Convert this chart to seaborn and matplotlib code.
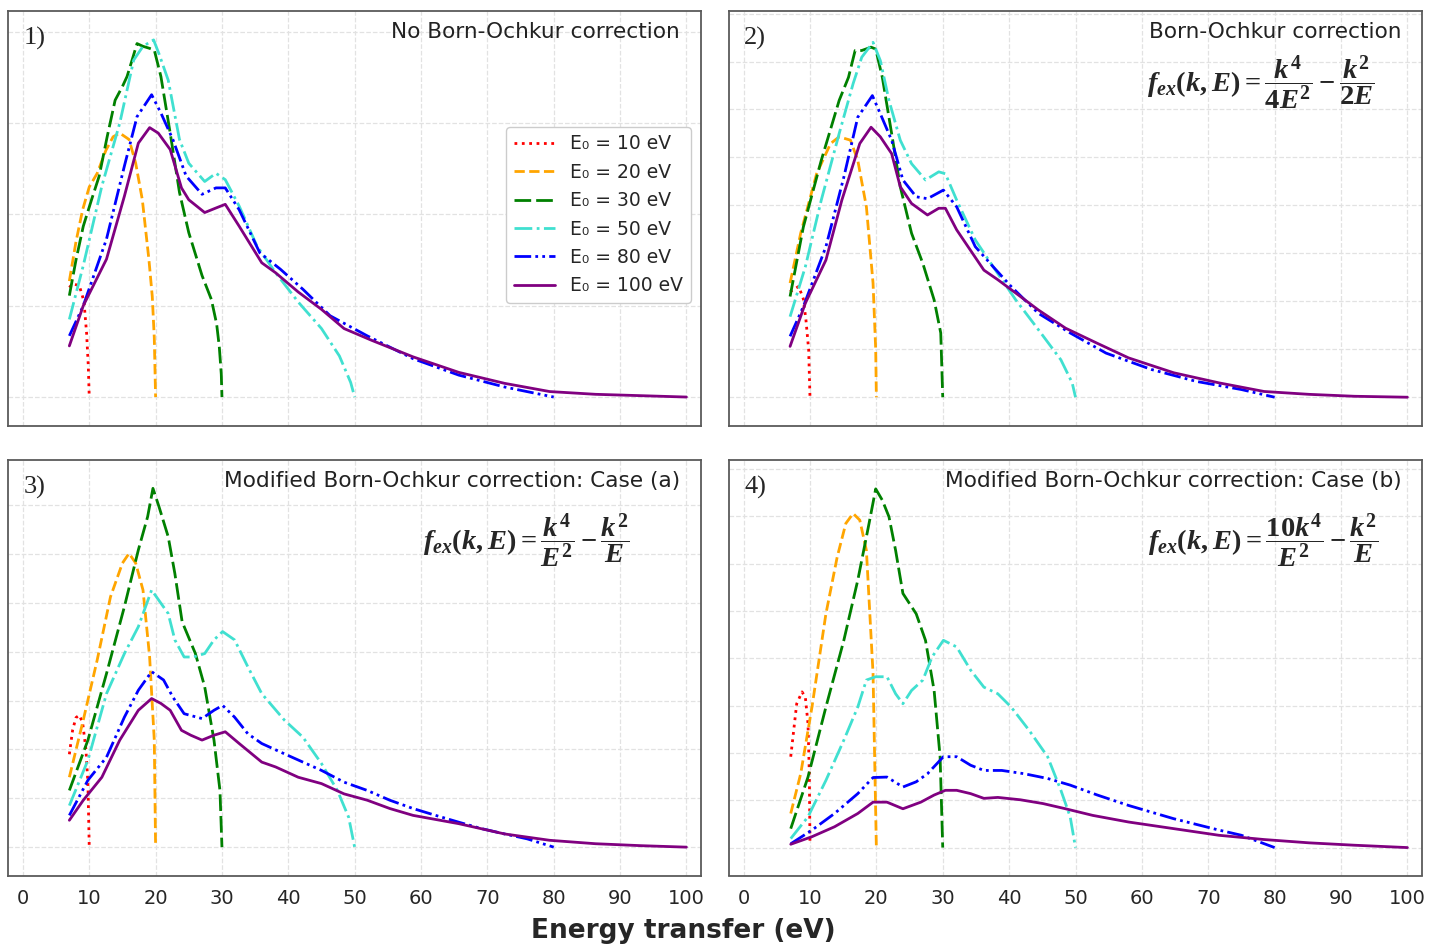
import numpy as np
import pandas as pd
import matplotlib
matplotlib.use("Agg")
import matplotlib.pyplot as plt
import seaborn as sns

sns.set_style("white")
plt.rcParams['font.family'] = ['DejaVu Sans']
plt.rcParams['mathtext.fontset'] = 'custom'
plt.rcParams['mathtext.rm'] = 'Liberation Serif:bold'
plt.rcParams['mathtext.it'] = 'Liberation Serif:italic:bold'
plt.rcParams['mathtext.bf'] = 'Liberation Serif:bold'

# ---------------- data (arbitrary cross-section units) ----------------
energies = [10, 20, 30, 50, 80, 100]
labels = ["E\u2080 = 10 eV", "E\u2080 = 20 eV", "E\u2080 = 30 eV",
          "E\u2080 = 50 eV", "E\u2080 = 80 eV", "E\u2080 = 100 eV"]
x_ticks = [0, 10, 20, 30, 40, 50, 60, 70, 80, 90, 100]

# Panel 1: no Born-Ochkur correction
p1_e10_x = [7, 7.5, 8.5, 9.2, 9.6, 9.85, 10]
p1_e10_y = [1.20, 1.24, 1.22, 1.05, 0.70, 0.35, 0.0]
p1_e20_x = [7, 8, 9, 10, 11.2, 12.5, 13.6, 14.6, 16, 17, 18, 19, 19.5, 19.8, 20]
p1_e20_y = [1.27, 1.70, 2.05, 2.30, 2.45, 2.70, 2.85, 2.89, 2.82, 2.56, 2.16, 1.50, 1.10, 0.65, 0.0]
p1_e30_x = [7, 8, 9.1, 10.3, 11.5, 12.7, 13.9, 15, 15.7, 16.5, 17.2, 18.1, 19, 19.8, 20.8,
            21.5, 22.2, 23.6, 25, 27, 28.4, 29.2, 29.6, 29.9, 30]
p1_e30_y = [1.11, 1.50, 1.87, 2.15, 2.42, 2.85, 3.25, 3.40, 3.51, 3.70, 3.87, 3.84, 3.82, 3.80, 3.51,
            3.20, 2.89, 2.24, 1.80, 1.33, 1.07, 0.80, 0.55, 0.25, 0.0]
p1_e50_x = [7, 9.1, 11.9, 14.6, 16.7, 18.1, 19.7, 20.5, 21.9, 23.6, 25, 27.4, 29.1, 30.5,
            32.6, 35.3, 38.1, 41.5, 45, 47.7, 49.4, 50]
p1_e50_y = [0.85, 1.44, 2.31, 3.00, 3.69, 3.84, 3.91, 3.76, 3.47, 2.82, 2.56, 2.36, 2.45, 2.38,
            2.09, 1.65, 1.36, 1.04, 0.75, 0.45, 0.16, 0.0]
p1_e80_x = [7, 9.1, 12.6, 15.3, 17.2, 19.4, 20.8, 22.6, 24.6, 27, 29.1, 30.5, 32.6, 35.7,
            38.8, 42.2, 46.3, 51.9, 58.8, 65.7, 72.6, 80]
p1_e80_y = [0.67, 1.00, 1.73, 2.53, 3.07, 3.31, 3.11, 2.82, 2.42, 2.22, 2.29, 2.29, 2.05, 1.58,
            1.40, 1.18, 0.89, 0.67, 0.42, 0.24, 0.11, 0.0]
p1_e100_x = [7, 9.1, 12.6, 15.3, 17.4, 19.1, 20.4, 22.2, 23.9, 25, 27.4, 29.1, 30.5, 32.6, 36,
             38.1, 41.5, 45, 48.4, 52.6, 58.8, 65.7, 72.6, 79.4, 86.3, 93.2, 100]
p1_e100_y = [0.56, 1.00, 1.51, 2.20, 2.78, 2.95, 2.89, 2.71, 2.29, 2.16, 2.02, 2.07, 2.11, 1.87, 1.47,
             1.36, 1.15, 0.96, 0.75, 0.62, 0.44, 0.27, 0.15, 0.06, 0.03, 0.015, 0.0]

# Panel 2: Born-Ochkur correction
p2_e10_x = [7, 8.3, 9.0, 9.4, 9.8, 10]
p2_e10_y = [2.20, 2.31, 2.05, 1.60, 0.99, 0.0]
p2_e20_x = [7, 8.6, 11, 13.1, 14.4, 16.1, 17.2, 18.5, 19.5, 19.9, 20]
p2_e20_y = [2.38, 3.42, 4.66, 5.29, 5.43, 5.36, 4.94, 3.97, 2.38, 1.0, 0.0]
p2_e30_x = [7, 9, 11.7, 14.4, 15.8, 16.8, 17.8, 19.2, 19.9, 20.9, 22.3, 23.6, 25.3, 27, 28.7,
            29.7, 30]
p2_e30_y = [2.10, 3.55, 4.94, 6.19, 6.67, 7.23, 7.23, 7.30, 7.26, 6.67, 5.50, 4.39, 3.42, 2.79, 2.03,
            1.34, 0.0]
p2_e50_x = [7, 9.3, 11.7, 14.4, 16.5, 17.8, 19.5, 20.6, 21.9, 23.6, 25.3, 27.4, 29.4, 30.4,
            32.1, 34.9, 37.6, 41, 44.4, 47.8, 49.5, 50]
p2_e50_y = [1.68, 2.72, 4.11, 5.50, 6.54, 7.09, 7.40, 7.02, 6.19, 5.36, 4.87, 4.53, 4.70, 4.66,
            4.11, 3.28, 2.72, 2.03, 1.41, 0.78, 0.30, 0.0]
p2_e80_x = [7, 9, 12.4, 15.1, 17.2, 19.4, 20.6, 22.3, 24, 26, 27.7, 30.1, 32.1, 34.9, 37.6,
            40.3, 44.4, 49.2, 54.6, 61.4, 68.2, 75, 80]
p2_e80_y = [1.27, 1.89, 3.14, 4.59, 5.84, 6.29, 5.91, 5.36, 4.53, 4.18, 4.14, 4.32, 3.97, 3.14, 2.72,
            2.31, 1.75, 1.34, 0.92, 0.58, 0.33, 0.16, 0.0]
p2_e100_x = [7, 9.3, 12.4, 14.8, 17.5, 19.2, 20.6, 22.3, 23.6, 25.3, 27.7, 29.4, 30.4, 32.1,
             36.2, 38.3, 41.7, 44.4, 48.5, 53.2, 58, 64.8, 71.6, 78.4, 85.2, 92, 100]
p2_e100_y = [1.06, 1.96, 2.86, 4.11, 5.29, 5.63, 5.43, 5.08, 4.39, 4.04, 3.80, 3.94, 3.94, 3.49,
             2.65, 2.45, 2.10, 1.82, 1.44, 1.13, 0.82, 0.51, 0.30, 0.12, 0.06, 0.02, 0.0]

# Panel 3: modified Born-Ochkur correction, case (a)
p3_e10_x = [7, 7.5, 8, 8.5, 9, 9.5, 9.8, 10]
p3_e10_y = [1.90, 2.40, 2.65, 2.70, 2.55, 2.00, 1.30, 0.0]
p3_e20_x = [7, 9.1, 11.2, 13.2, 15, 16, 17, 18.1, 19.1, 19.8, 20]
p3_e20_y = [1.43, 2.60, 3.83, 5.12, 5.81, 6.01, 5.81, 5.26, 3.89, 2.19, 0.0]
p3_e30_x = [7, 9.8, 12.6, 15.3, 17.4, 18.8, 19.6, 20.5, 21.9, 22.9, 24, 26, 27.4, 28.8, 29.7, 30]
p3_e30_y = [1.16, 2.19, 3.55, 4.92, 6.08, 6.76, 7.34, 6.97, 6.35, 5.60, 4.61, 3.96, 3.28, 2.19,
            1.16, 0.0]
p3_e50_x = [7, 9.8, 12.6, 15.3, 17.4, 19.4, 20.8, 21.9, 22.9, 24.3, 25.7, 27.4, 28.8, 30.1,
            31.9, 33.9, 36, 39.4, 42.2, 45, 47.4, 49.1, 50]
p3_e50_y = [0.85, 1.78, 3.14, 3.96, 4.51, 5.26, 4.99, 4.78, 4.24, 3.89, 3.89, 3.96, 4.24, 4.41,
            4.24, 3.69, 3.14, 2.60, 2.25, 1.71, 1.16, 0.61, 0.0]
p3_e80_x = [7, 9.8, 12.6, 15.3, 17.4, 19.4, 21.2, 22.6, 24.3, 27, 28.8, 30.1, 31.9, 33.9, 36,
            39.4, 42.2, 45, 48.4, 51.9, 55.3, 58.8, 62.2, 65.7, 69.1, 72.6, 76, 80]
p3_e80_y = [0.65, 1.37, 1.84, 2.66, 3.21, 3.59, 3.42, 3.07, 2.73, 2.63, 2.80, 2.90, 2.66, 2.32, 2.12,
            1.91, 1.74, 1.57, 1.33, 1.16, 0.96, 0.79, 0.65, 0.51, 0.38, 0.27, 0.17, 0.0]
p3_e100_x = [7, 9.1, 11.9, 14.6, 17.4, 19.4, 20.8, 22.2, 23.9, 25.3, 27, 28.8, 30.5, 32.6, 36,
             38.1, 41.5, 45, 48.4, 51.9, 55.3, 58.8, 65.7, 72.6, 79.4, 86.3, 93.2, 100]
p3_e100_y = [0.55, 0.96, 1.43, 2.19, 2.80, 3.04, 2.94, 2.80, 2.39, 2.29, 2.19, 2.29, 2.36, 2.12, 1.74,
             1.64, 1.43, 1.30, 1.09, 0.96, 0.79, 0.65, 0.48, 0.27, 0.14, 0.07, 0.03, 0.0]

# Panel 4: modified Born-Ochkur correction, case (b)
p4_e10_x = [7.1, 8, 8.8, 9.3, 9.7, 9.9, 10]
p4_e10_y = [1.92, 3.04, 3.29, 3.18, 2.62, 1.56, 0.05]
p4_e20_x = [7.1, 8.6, 10.3, 12.4, 14.1, 15.4, 16.5, 17.5, 18.5, 19.5, 20]
p4_e20_y = [0.72, 1.56, 2.97, 4.94, 6.14, 6.85, 7.06, 6.92, 6.28, 3.68, 0.0]
p4_e30_x = [7.1, 9.7, 12.4, 15.1, 17.2, 18.9, 19.9, 20.9, 21.9, 22.9, 24, 26, 27.4, 28.7, 29.6, 30]
p4_e30_y = [0.40, 1.49, 2.97, 4.38, 5.65, 6.85, 7.58, 7.34, 6.99, 6.28, 5.37, 4.94, 4.38, 3.32,
            1.92, 0.0]
p4_e50_x = [7.1, 9.7, 12.4, 15.1, 17.2, 18.5, 19.9, 21.6, 22.9, 24, 25.3, 27, 28.4, 30.1, 32.1,
            34.2, 36.2, 38.3, 40.3, 43, 45.8, 47.8, 49.2, 50]
p4_e50_y = [0.19, 0.65, 1.42, 2.27, 2.97, 3.54, 3.61, 3.61, 3.25, 3.04, 3.32, 3.54, 4.03, 4.38, 4.24,
            3.75, 3.39, 3.25, 2.97, 2.48, 1.92, 1.21, 0.65, 0.0]
p4_e80_x = [7.1, 10.3, 13.7, 17.2, 19.5, 21.6, 24, 26, 27.7, 30.1, 32.1, 34.2, 36.2, 38.9, 42.3,
            45.8, 49.2, 53.3, 58, 64.8, 71.6, 75, 80]
p4_e80_y = [0.08, 0.37, 0.72, 1.14, 1.48, 1.49, 1.28, 1.39, 1.56, 1.92, 1.92, 1.74, 1.63, 1.63, 1.56,
            1.46, 1.32, 1.11, 0.89, 0.61, 0.37, 0.26, 0.0]
p4_e100_x = [7.1, 10.3, 13.7, 17.2, 19.5, 21.6, 24, 26.7, 28.7, 30.4, 32.1, 34.2, 36.2, 38.3, 41.7,
             45.1, 48.5, 52.6, 58, 64.8, 71.6, 78.4, 85.2, 92, 100]
p4_e100_y = [0.07, 0.23, 0.44, 0.72, 0.96, 0.96, 0.82, 0.96, 1.11, 1.21, 1.21, 1.14, 1.04, 1.06, 1.01,
             0.93, 0.82, 0.68, 0.54, 0.40, 0.26, 0.17, 0.10, 0.05, 0.0]

panel_titles = ["No Born-Ochkur correction", "Born-Ochkur correction",
                "Modified Born-Ochkur correction: Case (a)",
                "Modified Born-Ochkur correction: Case (b)"]
panel_tags = ["1)", "2)", "3)", "4)"]
formulas = [None,
            r"$f_{ex}(k,E) = \dfrac{k^4}{4E^2} - \dfrac{k^2}{2E}$",
            r"$f_{ex}(k,E) = \dfrac{k^4}{E^2} - \dfrac{k^2}{E}$",
            r"$f_{ex}(k,E) = \dfrac{10k^4}{E^2} - \dfrac{k^2}{E}$"]

panels = [
    [(p1_e10_x, p1_e10_y), (p1_e20_x, p1_e20_y), (p1_e30_x, p1_e30_y),
     (p1_e50_x, p1_e50_y), (p1_e80_x, p1_e80_y), (p1_e100_x, p1_e100_y)],
    [(p2_e10_x, p2_e10_y), (p2_e20_x, p2_e20_y), (p2_e30_x, p2_e30_y),
     (p2_e50_x, p2_e50_y), (p2_e80_x, p2_e80_y), (p2_e100_x, p2_e100_y)],
    [(p3_e10_x, p3_e10_y), (p3_e20_x, p3_e20_y), (p3_e30_x, p3_e30_y),
     (p3_e50_x, p3_e50_y), (p3_e80_x, p3_e80_y), (p3_e100_x, p3_e100_y)],
    [(p4_e10_x, p4_e10_y), (p4_e20_x, p4_e20_y), (p4_e30_x, p4_e30_y),
     (p4_e50_x, p4_e50_y), (p4_e80_x, p4_e80_y), (p4_e100_x, p4_e100_y)],
]
y_ticks = [[0, 1, 2, 3, 4], list(range(0, 9)), list(range(0, 8)), list(range(0, 9))]

# ---------------- styles ----------------
colors = ["red", "orange", "green", "turquoise", "blue", "purple"]
styles = [":", "--", (0, (6, 1.8)), "-.", (0, (6, 1.5, 1, 1.5, 1, 1.5)), "-"]
ylims = [(-0.317, 4.23), (-0.60, 8.06), (-0.58, 7.92), (-0.59, 8.19)]
W, H = 1432, 946
boxes_px = [(8.3, 10.7, 701, 426), (729, 10.7, 1422, 426),
            (8.3, 460, 701, 875.5), (729, 460, 1422, 875.5)]
title_pos = [(0.970, 0.949), (0.970, 0.949), (0.970, 0.949), (0.970, 0.949)]
formula_pos = [None, (0.932, 0.826), (0.897, 0.805), (0.937, 0.805)]

fig = plt.figure(figsize=(W / 100, H / 100), dpi=100)
axes = []
for i in range(4):
    l, t, r, b = boxes_px[i]
    ax = fig.add_axes([l / W, 1 - b / H, (r - l) / W, (b - t) / H])
    axes.append(ax)
    for j, (xs, ys) in enumerate(panels[i]):
        df = pd.DataFrame({"x": xs, "y": ys})
        sns.lineplot(data=df, x="x", y="y", ax=ax, color=colors[j],
                     linestyle=styles[j], linewidth=2.0, label=labels[j],
                     estimator=None, sort=False, legend=False)
    ax.set_xlim(-2.2, 102.2)
    ax.set_ylim(*ylims[i])
    ax.set_xticks(x_ticks)
    ax.set_yticks(y_ticks[i])
    ax.set_yticklabels([])
    ax.set_xlabel("")
    ax.set_ylabel("")
    ax.grid(True, linestyle="--", color="#e2e2e2", linewidth=0.9)
    ax.set_axisbelow(True)
    for s in ax.spines.values():
        s.set_color("#5a5a5a")
        s.set_linewidth(1.3)
    ax.tick_params(axis="y", length=0)
    ax.tick_params(axis="x", direction="out", length=6, width=1.1,
                   color="#5a5a5a", labelsize=14, pad=4)
    if i < 2:
        ax.set_xticklabels([])
    ax.text(0.022, 0.962, panel_tags[i], transform=ax.transAxes, ha="left", va="top",
            fontsize=19, family="Liberation Serif")
    ax.text(title_pos[i][0], title_pos[i][1], panel_titles[i], transform=ax.transAxes,
            ha="right", va="center", fontsize=15.6, color="#222222")
    if formulas[i] is not None:
        ax.text(formula_pos[i][0], formula_pos[i][1], formulas[i], transform=ax.transAxes,
                ha="right", va="center", fontsize=20.5)

leg = axes[0].legend(loc="upper right", bbox_to_anchor=(0.985, 0.72), fontsize=13.5,
                     handlelength=2.2, labelspacing=0.5, frameon=True,
                     borderaxespad=0, framealpha=1.0, edgecolor="#cccccc")

fig.text(683 / W, 1 - 931 / H, "Energy transfer (eV)", ha="center", va="center",
         fontsize=19, fontweight="bold")

fig.savefig("out.png", dpi=100)
